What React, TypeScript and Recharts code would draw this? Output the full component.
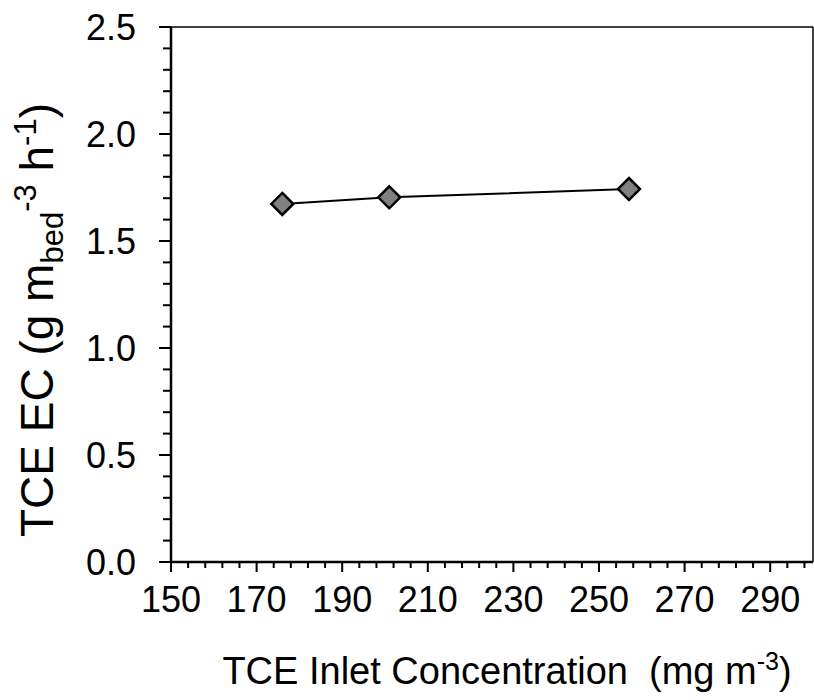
import React from 'react';
import { ComposedChart, Line, XAxis, YAxis, ReferenceLine } from 'recharts';

// TCE inlet concentration (mg m-3) vs elimination capacity (g m_bed-3 h-1)
const inletConc = [176, 201, 257];
const elimCap = [1.673, 1.704, 1.743];

const xMajorTicks = [150, 170, 190, 210, 230, 250, 270, 290];
const xMinorStep = 4;
const yMajorTicks = [0, 0.5, 1.0, 1.5, 2.0, 2.5];
const yMinorStep = 0.1;

const data = inletConc.map((x, i) => ({ x, y: elimCap[i] }));

const xTicks: number[] = [];
for (let v = 150; v < 300; v += xMinorStep) xTicks.push(v);
const yTicks: number[] = [];
for (let i = 0; i <= 25; i++) yTicks.push(Math.round(i * yMinorStep * 10) / 10);

const FONT = '"Liberation Sans", Arial, sans-serif';

const XTick = (props: any) => {
  const { x, y, payload } = props;
  const major = xMajorTicks.includes(payload.value);
  return (
    <g>
      <line x1={x} x2={x} y1={y} y2={y + (major ? 10 : 6)} stroke="#000" strokeWidth={2} />
      {major && (
        <text x={x} y={y + 50} textAnchor="middle" fontSize={36} fontFamily={FONT} fill="#000">
          {payload.value}
        </text>
      )}
    </g>
  );
};

const YTick = (props: any) => {
  const { x, y, payload } = props;
  const major = yMajorTicks.some((t) => Math.abs(t - payload.value) < 1e-6);
  return (
    <g>
      <line x1={x - (major ? 12 : 8)} x2={x} y1={y} y2={y} stroke="#000" strokeWidth={2} />
      {major && (
        <text x={x - 35} y={y + 13} textAnchor="end" fontSize={36} fontFamily={FONT} fill="#000">
          {payload.value.toFixed(1)}
        </text>
      )}
    </g>
  );
};

const Diamond = (props: any) => {
  const { cx, cy, index } = props;
  const r = 11;
  return (
    <path
      key={index}
      d={`M${cx},${cy - r} L${cx + r},${cy} L${cx},${cy + r} L${cx - r},${cy} Z`}
      fill="#808080"
      stroke="#000"
      strokeWidth={2.5}
    />
  );
};

const YTitle = () => (
  <text
    transform="translate(53, 320) rotate(-90)"
    textAnchor="middle"
    fontSize={46}
    fontFamily={FONT}
    fill="#000"
    xmlSpace="preserve"
  >
    TCE EC (g m
    <tspan fontSize={31} dy={10}>bed</tspan>
    <tspan fontSize={31} dy={-27}>-3</tspan>
    <tspan fontSize={46} dy={17}> h</tspan>
    <tspan fontSize={31} dy={-17}>-1</tspan>
    <tspan fontSize={46} dy={17}>)</tspan>
  </text>
);

const XTitle = () => (
  <text x={507} y={684} textAnchor="middle" fontSize={38} fontFamily={FONT} fill="#000" xmlSpace="preserve">
    TCE Inlet Concentration  (mg m
    <tspan fontSize={25} dy={-14}>-3</tspan>
    <tspan fontSize={38} dy={14}>)</tspan>
  </text>
);

export default function App() {
  return (
    <div style={{ width: 814, height: 700, background: '#fff' }}>
      <style>{'body{margin:0}'}</style>
      <ComposedChart width={814} height={700} data={data} margin={{ top: 27, right: 1, left: 0, bottom: 0 }}>
        <XAxis
          type="number"
          dataKey="x"
          domain={[150, 300]}
          ticks={xTicks}
          interval={0}
          tick={<XTick />}
          tickLine={false}
          tickSize={0}
          tickMargin={0}
          height={138}
          axisLine={{ stroke: '#000', strokeWidth: 2.5 }}
          allowDataOverflow
        />
        <YAxis
          type="number"
          domain={[0, 2.5]}
          ticks={yTicks}
          interval={0}
          tick={<YTick />}
          tickLine={false}
          tickSize={0}
          tickMargin={0}
          width={171}
          axisLine={{ stroke: '#000', strokeWidth: 2.5 }}
          allowDataOverflow
        />
        <ReferenceLine y={2.5} stroke="#000" strokeWidth={1.5} />
        <ReferenceLine x={300} stroke="#000" strokeWidth={1.5} />
        <Line
          type="linear"
          dataKey="y"
          stroke="#000"
          strokeWidth={2}
          dot={(p: any) => <Diamond {...p} />}
          activeDot={false}
          isAnimationActive={false}
        />
        <YTitle />
        <XTitle />
      </ComposedChart>
    </div>
  );
}
